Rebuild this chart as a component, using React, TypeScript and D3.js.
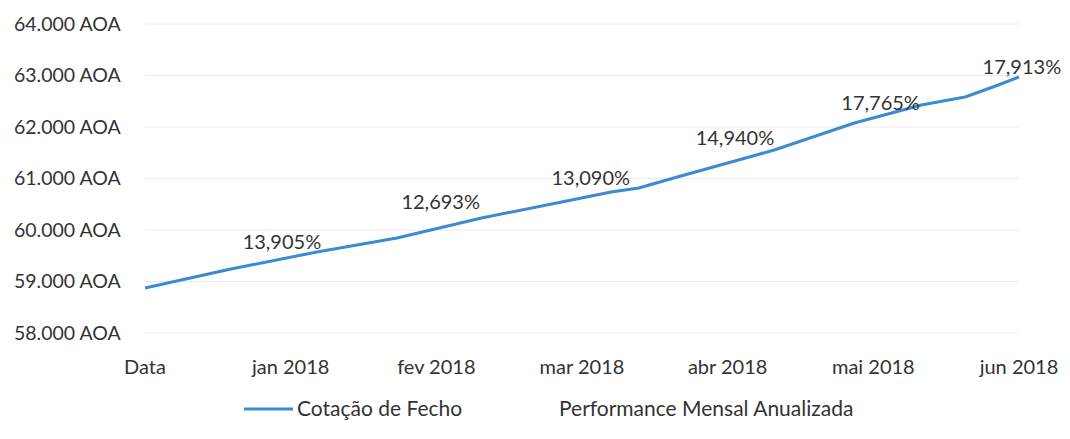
import React from 'react';
import {scaleLinear, line, curveLinear} from 'd3';

// category labels on the x axis (position = index)
const categories = ['Data', 'jan 2018', 'fev 2018', 'mar 2018', 'abr 2018', 'mai 2018', 'jun 2018'];

// closing price line (x in months from start)
const priceMonths = [0, 0.59, 1.18, 1.73, 2.31, 2.86, 3.2, 3.39, 3.63, 4.32, 4.87, 5.33, 5.63, 5.84, 6];
const priceValues = [58874, 59243, 59573, 59845, 60233, 60544, 60738, 60816, 61010, 61553, 62078, 62427, 62583, 62796, 62971];

// monthly annualised performance labels and the (hidden) points they sit on
const perfMonths = [0.94, 2.03, 3.06, 4.05, 5.05, 6.02];
const perfLabels = ['13,905%', '12,693%', '13,090%', '14,940%', '17,765%', '17,913%'];
const perfAnchors = [59534, 60311, 60777, 61553, 62233, 62932];

const yTicks = [58000, 59000, 60000, 61000, 62000, 63000, 64000];

const width = 1070;
const height = 439;
const font = 'Lato, "Open Sans", sans-serif';
const textColor = '#333';
const blue = '#3b8ad2';

const fmtAOA = (v: number) => (v / 1000).toFixed(3) + ' AOA';

const App = () => {
  const x = scaleLinear().domain([0, 6]).range([145, 1019]);
  const y = scaleLinear().domain([58000, 64000]).range([333, 24]);

  const pts = priceMonths.map((m, i) => ({m, v: priceValues[i]}));
  const pricePath = line<{m: number; v: number}>()
    .x((d) => x(d.m))
    .y((d) => y(d.v))
    .curve(curveLinear)(pts);

  return (
    <svg width={width} height={height} style={{position: 'absolute', left: 0, top: 0, background: '#fff'}}
      fontFamily={font}>
      {/* grid */}
      {yTicks.map((t) => (
        <line key={t} x1={x(0)} x2={x(6)} y1={y(t)} y2={y(t)} stroke="#ececec" strokeWidth={1} />
      ))}
      {/* y labels */}
      {yTicks.map((t) => (
        <text key={'l' + t} x={14} y={y(t)} dy="0.35em" fontSize={19.5} fill={textColor}>
          {fmtAOA(t)}
        </text>
      ))}
      {/* x labels */}
      {categories.map((c, i) => (
        <text key={c} x={x(i)} y={367} dy="0.35em" textAnchor="middle" fontSize={20} fill={textColor}>
          {c}
        </text>
      ))}
      {/* line */}
      <path d={pricePath || ''} fill="none" stroke={blue} strokeWidth={3} strokeLinejoin="round" />
      {/* performance labels */}
      {perfMonths.map((m, i) => (
        <text key={'p' + i} x={x(m)} y={y(perfAnchors[i]) - 12} dy="0.35em" textAnchor="middle"
          fontSize={20} fill={textColor}>
          {perfLabels[i]}
        </text>
      ))}
      {/* legend */}
      <line x1={244} x2={293} y1={409} y2={409} stroke={blue} strokeWidth={3} />
      <text x={297} y={409} dy="0.35em" fontSize={21} fill={textColor}>Cotação de Fecho</text>
      <text x={559} y={409} dy="0.35em" fontSize={21} fill={textColor}>Performance Mensal Anualizada</text>
    </svg>
  );
};

export default App;
